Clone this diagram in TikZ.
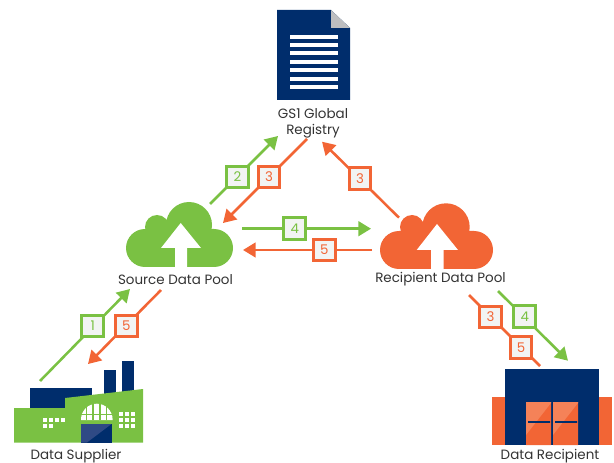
\documentclass[tikz,border=0pt]{standalone}
\usepackage{fontspec}
\setmainfont{Poppins}
\usetikzlibrary{arrows.meta}
\definecolor{gr}{HTML}{7AC143}
\definecolor{og}{HTML}{F26535}
\definecolor{nv}{HTML}{002D6C}
\definecolor{nvl}{HTML}{2F4A85}
\definecolor{ogl}{HTML}{F58258}
\definecolor{tx}{HTML}{333333}
\definecolor{sq}{HTML}{F2F4F3}
\definecolor{fold}{HTML}{BDBEC0}
\tikzset{
  x=0.75pt,y=-0.75pt,
  lbl/.style={text=tx,font=\fontsize{10.1}{12.2}\selectfont,inner sep=0pt,align=center},
  tag/.style={draw=#1,text=#1,fill=sq,line width=2.3pt,minimum size=16.2pt,inner sep=0pt,font=\fontsize{10}{11}\selectfont},
  conn/.style={draw=#1,line width=1.9pt},
  head/.style={conn=#1,-{Triangle[length=9.5pt,width=11pt]}},
  win/.style={fill=white,draw=none},
}
\begin{document}
\begin{tikzpicture}
\useasboundingbox (0,0) rectangle (614,463);

% GS1 document
\fill[nv] (277,10) -- (331,10) -- (350,28) -- (350,100) -- (277,100) -- cycle;
\fill[fold] (331,10) -- (350,28) -- (331,28) -- cycle;
\foreach \yy in {35,43,51,60,68,77,85}
  \fill[white] (290,\yy) rectangle (338,\yy+4);
\node[lbl] (gs1) at (313,123.5) {GS1 Global\\Registry};

% Source cloud
\fill[gr] (189,225) circle[radius=23] (157,227) circle[radius=12]
  (145,248) circle[radius=19] (214,248) circle[radius=19];
\fill[gr] (145,229) rectangle (214,267) (157,225) rectangle (200,240);
\fill[white] (180.7,223) -- (201,248) -- (187,248) -- (187,267) -- (175,267) -- (175,248) -- (161,248) -- cycle;
\node[lbl] (src) at (175.5,279.5) {Source Data Pool};

% Recipient cloud
\fill[og] (446,227) circle[radius=23.7] (412,227) circle[radius=12]
  (399,250) circle[radius=19] (474,250) circle[radius=19];
\fill[og] (399,231) rectangle (474,269) (412,227) rectangle (458,242);
\fill[white] (437,224) -- (458,250) -- (443.7,250) -- (443.7,269) -- (431,269) -- (431,250) -- (416.7,250) -- cycle;
\node[lbl] (rcp) at (440.5,279.5) {Recipient Data Pool};

% Factory
\fill[nv] (29.5,388.3) rectangle (92.3,410);
\fill[nv] (104,370) rectangle (116,396);
\fill[nv] (122,361) rectangle (134,394);
\fill[gr] (14,408) -- (65,408) -- (65,398) -- (143,389) -- (143,442.5) -- (14,442.5) -- cycle;
\fill[nv] (81,424) rectangle (112,442.5);
\fill[nvl] (81,424) -- (111.5,424) -- (87,442.5) -- (81,442.5) -- cycle;
\fill[white] (81,420) -- (81,419.5) arc[start angle=180,end angle=360,radius=15.8] -- (112.6,420) -- cycle;
\draw[gr,line width=0.9pt] (81,414.5) -- (113,414.5)
  (86.5,403) -- (86.5,420) (93,403) -- (93,420) (100,403) -- (100,420) (106.5,403) -- (106.5,420);
\foreach \xx in {43.3,49.3,55,61} \fill[win] (\xx,418) rectangle (\xx+4,422);
\foreach \xx in {43.3,49.3} \fill[win] (\xx,424) rectangle (\xx+4,428);
\foreach \xx in {119.3,125.3,131.3} \foreach \yy in {412,418,424}
  \fill[win] (\xx,\yy) rectangle (\xx+4,\yy+4);
\node[lbl] (sup) at (76,456.5) {Data Supplier};

% Warehouse
\fill[og] (492,397) rectangle (612,445);
\fill[nv] (505,369) rectangle (598.7,445);
\fill[og] (526,402) rectangle (551,445) (553,402) rectangle (578,445);
\fill[ogl] (526,402) -- (551,402) -- (551,403) -- (526,435) -- cycle;
\fill[ogl] (553,402) -- (578,402) -- (578,403) -- (553,435) -- cycle;
\fill[nv] (528,421.2) rectangle (550,422.8) (555,421.2) rectangle (577,422.8);
\node[lbl] (rec) at (550,456.5) {Data Recipient};

% Connector ends
\coordinate (a1) at (40,381);   \coordinate (b1) at (130,289);
\coordinate (a5) at (161,290);  \coordinate (b5) at (88,364);
\coordinate (a2) at (210,204);  \coordinate (b2) at (278,136);
\coordinate (a3) at (307,139);  \coordinate (b3) at (223,223);
\coordinate (a4) at (242,228.7);\coordinate (b4) at (371,228.7);
\coordinate (a6) at (372,250);  \coordinate (b6) at (243,250);
\coordinate (a7) at (399,217.7);\coordinate (b7) at (322,141.7);
\coordinate (a8) at (469,295);  \coordinate (b8) at (540,366);
\coordinate (a9) at (498,291);  \coordinate (b9) at (568,360.7);

\draw[head=gr] (a1) -- (b1);
\draw[head=og] (a5) -- (b5);
\draw[head=gr] (a2) -- (b2);
\draw[head=og] (a3) -- (b3);
\draw[head=gr] (a4) -- (b4);
\draw[head=og] (a6) -- (b6);
\draw[head=og] (a7) -- (b7);
\draw[conn=og] (a8) -- (b8);
\draw[head=gr] (a9) -- (b9);

% Step tags
\node[tag=gr] (t1) at (92.7,326) {1};
\node[tag=og] (t5) at (126.3,326) {5};
\node[tag=gr] (t2) at (237.5,177) {2};
\node[tag=og] (t3) at (269,177) {3};
\node[tag=gr] (t4) at (294.7,228.7) {4};
\node[tag=og] (t6) at (324.3,250) {5};
\node[tag=og] (t7) at (360,178.7) {3};
\node[tag=og] (t8) at (490.5,317) {3};
\node[tag=og] (t9) at (521,347.5) {5};
\node[tag=gr] (t10) at (524.7,316.7) {4};
\end{tikzpicture}
\end{document}
